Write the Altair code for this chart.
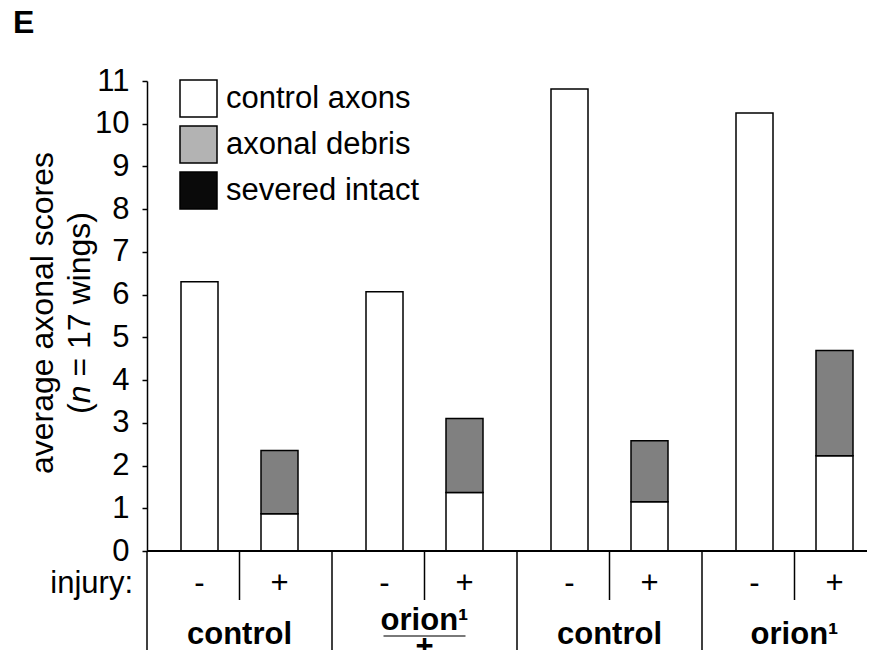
import altair as alt
import pandas as pd

# ---- data ----
group_keys = ["control_a", "orion_het", "control_b", "orion_hom"]
group_top = ["control", "orion¹", "control", "orion¹"]
group_bottom = ["", "+", "", ""]
injury_levels = ["-", "+"]
parts = ["control axons", "axonal debris", "severed intact"]

control_axons = [6.30, 0.87, 6.07, 1.37, 10.81, 1.15, 10.25, 2.23]
axonal_debris = [0.0, 1.48, 0.0, 1.73, 0.0, 1.43, 0.0, 2.46]
severed_intact = [0.0, 0.0, 0.0, 0.0, 0.0, 0.0, 0.0, 0.0]
y_ticks = list(range(0, 12))

ytitle_line1 = "average axonal scores"
ytitle_line2 = ["(", "n", "= 17 wings)"]

rows = []
for i in range(8):
    for p, vals in zip(parts, [control_axons, axonal_debris, severed_intact]):
        rows.append({"group": group_keys[i // 2], "injury": injury_levels[i % 2],
                     "part": p, "ord": parts.index(p), "value": vals[i]})
bars_df = pd.DataFrame(rows)
cells_df = pd.DataFrame([{"group": g, "injury": inj} for g in group_keys for inj in injury_levels])
groups_df = pd.DataFrame({"group": group_keys, "top": group_top, "bottom": group_bottom})
legend_df = pd.DataFrame({"part": parts})

FONT = "Liberation Sans"
FS = 31
PW, PH = 720, 470

x_scale = alt.Scale(domain=group_keys, range=[0, 740], paddingInner=0, paddingOuter=0)
xo_scale = alt.Scale(domain=injury_levels, paddingInner=0.5375, paddingOuter=0.425)
X = alt.X("group:N", scale=x_scale, axis=None, sort=None)
XO = alt.XOffset("injury:N", scale=xo_scale, sort=None)

bars = alt.Chart(bars_df).transform_filter("datum.value > 0").mark_bar(
    stroke="black", strokeWidth=1.5
).encode(
    x=X,
    xOffset=XO,
    y=alt.Y("value:Q", stack="zero",
            scale=alt.Scale(domain=[0, 11], nice=False),
            axis=alt.Axis(values=y_ticks, labelFontSize=FS, labelFont=FONT, labelColor="black",
                          tickSize=5, tickWidth=1.5, tickColor="black", labelPadding=13,
                          domainColor="black", domainWidth=1.5, grid=False, title=None)),
    color=alt.Color("part:N", scale=alt.Scale(domain=parts, range=["white", "#808080", "#0a0a0a"]),
                    legend=None),
    order=alt.Order("ord:Q"),
)

# legend-only layer (its own colour scale): the marks sit outside the canvas
legend_layer = alt.Chart(legend_df).mark_bar(stroke="black", strokeWidth=1.5).encode(
    x=alt.value(-2000), x2=alt.value(-1990), y=alt.value(-2000), y2=alt.value(-1990),
    color=alt.Color("part:N", scale=alt.Scale(domain=parts, range=["white", "#b3b3b3", "#0a0a0a"]),
                    legend=alt.Legend(orient="none", legendX=32, legendY=-2, title=None,
                                      symbolType="square", symbolSize=1369,
                                      symbolStrokeColor="black", symbolStrokeWidth=1.5,
                                      labelFont=FONT, labelFontSize=FS, labelColor="black",
                                      labelOffset=8, rowPadding=3, padding=0,
                                      labelLimit=400)),
)

x_line = alt.Chart(cells_df).mark_rule(color="black", strokeWidth=1.5).encode(
    x=alt.value(0), x2=alt.value(PW), y=alt.value(PH))

full_div = alt.Chart(groups_df).mark_rule(color="black", strokeWidth=1.5).encode(
    x=alt.X("group:N", scale=x_scale, axis=None, sort=None, bandPosition=0),
    y=alt.value(PH), y2=alt.value(PH + 99))

short_div = alt.Chart(groups_df).mark_rule(color="black", strokeWidth=1.5).encode(
    x=alt.X("group:N", scale=x_scale, axis=None, sort=None, bandPosition=0.5),
    y=alt.value(PH), y2=alt.value(PH + 49))

inj_text = alt.Chart(cells_df).mark_text(font=FONT, fontSize=FS, color="black",
                                         baseline="alphabetic").encode(
    x=X, xOffset=XO, y=alt.value(PH + 42), text="injury:N")

inj_label = alt.Chart(pd.DataFrame({"t": ["injury:"]})).mark_text(
    font=FONT, fontSize=FS, color="black", align="right", baseline="alphabetic"
).encode(x=alt.value(-14), y=alt.value(PH + 42), text="t:N")

plain_lab = alt.Chart(groups_df).transform_filter("datum.bottom == ''").mark_text(
    font=FONT, fontSize=FS, fontWeight="bold", color="black", baseline="alphabetic"
).encode(x=X, y=alt.value(PH + 93), text="top:N")

num_lab = alt.Chart(groups_df).transform_filter("datum.bottom != ''").mark_text(
    font=FONT, fontSize=FS, fontWeight="bold", color="black", baseline="alphabetic"
).encode(x=X, y=alt.value(PH + 79), text="top:N")

frac_bar = alt.Chart(groups_df).transform_filter("datum.bottom != ''").mark_tick(
    orient="horizontal", size=82, thickness=1.5, color="black"
).encode(x=X, y=alt.value(PH + 85))

den_lab = alt.Chart(groups_df).transform_filter("datum.bottom != ''").mark_text(
    font=FONT, fontSize=FS, fontWeight="bold", color="black", baseline="middle"
).encode(x=X, y=alt.value(PH + 96), text="bottom:N")

panel = alt.Chart(pd.DataFrame({"t": ["E"]})).mark_text(
    font=FONT, fontSize=32, fontWeight="bold", color="black", align="left", baseline="alphabetic"
).encode(x=alt.value(-134), y=alt.value(-48), text="t:N")

# y-axis title as text, so that "n" can be italic
TFS = 32
yt1 = alt.Chart(pd.DataFrame({"t": [ytitle_line1]})).mark_text(
    font=FONT, fontSize=TFS, color="black", angle=270, align="center", baseline="middle"
).encode(x=alt.value(-104), y=alt.value(232), text="t:N")

yt2a = alt.Chart(pd.DataFrame({"t": [ytitle_line2[0]]})).mark_text(
    font=FONT, fontSize=TFS, color="black", angle=270, align="left", baseline="middle"
).encode(x=alt.value(-67), y=alt.value(333), text="t:N")
yt2b = alt.Chart(pd.DataFrame({"t": [ytitle_line2[1]]})).mark_text(
    font=FONT, fontSize=TFS, fontStyle="italic", color="black", angle=270, align="left",
    baseline="middle"
).encode(x=alt.value(-67), y=alt.value(333 - 10.7), text="t:N")
yt2c = alt.Chart(pd.DataFrame({"t": [ytitle_line2[2]]})).mark_text(
    font=FONT, fontSize=TFS, color="black", angle=270, align="left", baseline="middle"
).encode(x=alt.value(-67), y=alt.value(333 - 10.7 - 17.8 - 8.9), text="t:N")

chart = alt.layer(
    bars, legend_layer, x_line, full_div, short_div, inj_text, inj_label,
    plain_lab, num_lab, frac_bar, den_lab, panel, yt1, yt2a, yt2b, yt2c
).resolve_scale(color="independent").properties(
    width=PW, height=PH,
    padding={"left": 139, "top": 73, "right": 0, "bottom": 99},
    autosize=alt.AutoSizeParams(type="none"),
).configure(background="white").configure_view(stroke=None)

chart.save("out.html", embed_options={"renderer": "svg", "actions": False})
